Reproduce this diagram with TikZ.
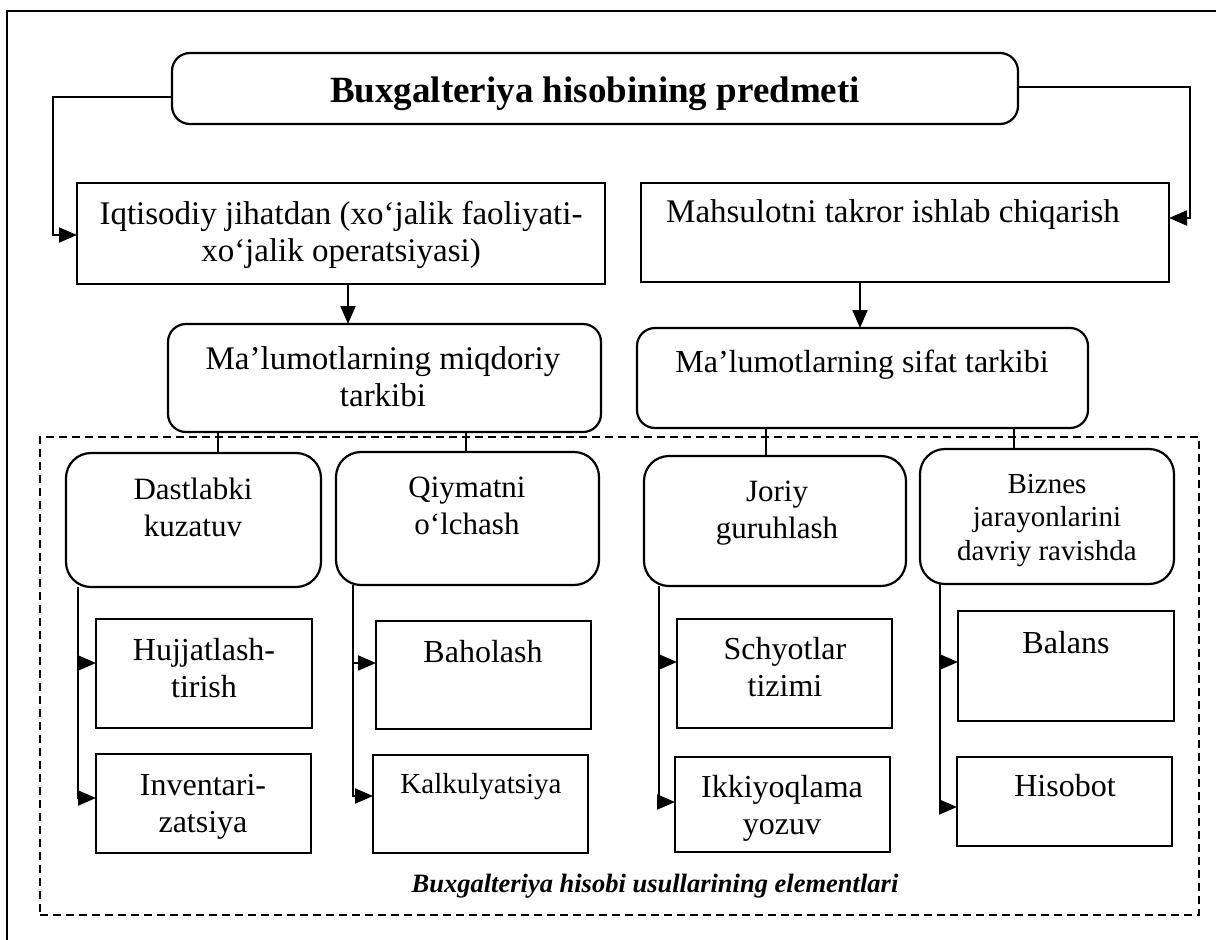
\documentclass[tikz,border=0pt]{standalone}
\usepackage{fontspec}
\setmainfont{Liberation Serif}
\usetikzlibrary{arrows.meta}

% centred lines whose baseline is that of the first line
\newcommand{\boxlines}[1]{\begin{tabular}[t]{@{}c@{}}#1\end{tabular}}
\newcommand{\fTitle}{\fontsize{37}{42}\selectfont\bfseries}
\newcommand{\fMain}{\fontsize{33}{37}\selectfont}
\newcommand{\fHead}{\fontsize{31}{37.5}\selectfont}
\newcommand{\fSub}{\fontsize{32}{37}\selectfont}
\newcommand{\fSmall}{\fontsize{29}{33.5}\selectfont}
\newcommand{\fCap}{\fontsize{26.5}{30}\selectfont\bfseries\itshape}

\tikzset{
  box/.style={draw, line width=2.2pt, inner sep=0pt, outer sep=0pt},
  rbox/.style={box, rounded corners=#1},
  rbox/.default=18pt,
  txt/.style={anchor=base, inner sep=0pt, outer sep=0pt, align=center},
  conn/.style={line width=2pt},
  arr/.style={conn, -{Triangle[length=18pt,width=15pt]}},
  dashbox/.style={draw, line width=1.8pt, dash pattern=on 8pt off 5pt, inner sep=0pt},
}

\begin{document}
\begin{tikzpicture}[x=1pt, y=-1pt]
\useasboundingbox (0,0) rectangle (1216,940);

% page frame
\draw[line width=2.2pt] (7,940) -- (7,11) -- (1216,11);

% top level
\node[rbox, minimum width=846pt, minimum height=71pt] (title) at (595,88.5) {};
\node[txt, font=\fTitle] (title-t) at (595,102) {Buxgalteriya hisobining predmeti};

\node[box, minimum width=528pt, minimum height=101pt] (iqt) at (341,233.5) {};
\node[txt, font=\fMain] (iqt-t) at (341,224) {\boxlines{Iqtisodiy jihatdan (xo‘jalik faoliyati-\\xo‘jalik operatsiyasi)}};

\node[box, minimum width=528pt, minimum height=99pt] (mah) at (905,232.5) {};
\node[txt, font=\fMain] (mah-t) at (893,222) {Mahsulotni takror ishlab chiqarish};

% second level
\node[rbox, minimum width=433pt, minimum height=108pt] (mid1) at (384.5,378) {};
\node[txt, font=\fMain] (mid1-t) at (383,369) {\boxlines{Ma’lumotlarning miqdoriy\\tarkibi}};

\node[rbox, minimum width=451pt, minimum height=100pt] (mid2) at (862.5,378) {};
\node[txt, font=\fSub] (mid2-t) at (862,372) {Ma’lumotlarning sifat tarkibi};

% group of method elements
\node[dashbox, minimum width=1159pt, minimum height=478pt] (elems) at (619.5,676) {};
\node[txt, font=\fCap] (elems-t) at (655,892) {Buxgalteriya hisobi usullarining elementlari};

% third level
\node[rbox=25pt, minimum width=255pt, minimum height=134pt] (r1) at (193.5,520) {};
\node[txt, font=\fHead] (r1-t) at (193,499) {\boxlines{Dastlabki\\kuzatuv}};

\node[rbox=25pt, minimum width=263pt, minimum height=133pt] (r2) at (467.5,518.5) {};
\node[txt, font=\fHead] (r2-t) at (467,497) {\boxlines{Qiymatni\\o‘lchash}};

\node[rbox=25pt, minimum width=262pt, minimum height=130pt] (r3) at (775,521) {};
\node[txt, font=\fHead] (r3-t) at (777,501) {\boxlines{Joriy\\guruhlash}};

\node[rbox=25pt, minimum width=254pt, minimum height=135pt] (r4) at (1047,516.5) {};
\node[txt, font=\fSmall] (r4-t) at (1047,493) {\boxlines{Biznes\\jarayonlarini\\davriy ravishda}};

% elements
\node[box, minimum width=216pt, minimum height=109pt] (s1a) at (204,673.5) {};
\node[txt, font=\fSub] (s1a-t) at (204,660) {\boxlines{Hujjatlash-\\tirish}};
\node[box, minimum width=215pt, minimum height=99pt] (s1b) at (203.5,803.5) {};
\node[txt, font=\fSub] (s1b-t) at (203,795) {\boxlines{Inventari-\\zatsiya}};

\node[box, minimum width=215pt, minimum height=108pt] (s2a) at (483.5,675) {};
\node[txt, font=\fSub] (s2a-t) at (483,662) {Baholash};
\node[box, minimum width=215pt, minimum height=98pt] (s2b) at (480.5,804) {};
\node[txt, font=\fSmall] (s2b-t) at (481,793) {Kalkulyatsiya};

\node[box, minimum width=215pt, minimum height=109pt] (s3a) at (784.5,673.5) {};
\node[txt, font=\fSub] (s3a-t) at (785,659) {\boxlines{Schyotlar\\tizimi}};
\node[box, minimum width=215pt, minimum height=95pt] (s3b) at (782.5,804.5) {};
\node[txt, font=\fSub] (s3b-t) at (782,797) {\boxlines{Ikkiyoqlama\\yozuv}};

\node[box, minimum width=216pt, minimum height=110pt] (s4a) at (1066,666) {};
\node[txt, font=\fSub] (s4a-t) at (1066,653) {Balans};
\node[box, minimum width=215pt, minimum height=89pt] (s4b) at (1064.5,801.5) {};
\node[txt, font=\fSub] (s4b-t) at (1065,796) {Hisobot};

% connectors from the title
\coordinate (lt) at (53,97);
\coordinate (lb) at (53,235);
\draw[arr] (title.west |- lt) -- (lt) -- (lb) -- (iqt.west |- lb);
\coordinate (rt) at (1190,87);
\coordinate (rb) at (1190,218);
\draw[arr] (title.east |- rt) -- (rt) -- (rb) -- (mah.east |- rb);

% down arrows
\coordinate (d1) at (348,0);
\coordinate (d2) at (860,0);
\draw[arr] (iqt.south -| d1) -- (mid1.north -| d1);
\draw[arr] (mah.south -| d2) -- (mid2.north -| d2);

% short links into the group
\coordinate (k1) at (218,0);
\coordinate (k2) at (466,0);
\coordinate (k3) at (766,0);
\coordinate (k4) at (1014,0);
\draw[conn] (mid1.south -| k1) -- (r1.north -| k1);
\draw[conn] (mid1.south -| k2) -- (r2.north -| k2);
\draw[conn] (mid2.south -| k3) -- (r3.north -| k3);
\draw[conn] (mid2.south -| k4) -- (r4.north -| k4);

% column branches
\coordinate (c1a) at (78,663);  \coordinate (c1b) at (78,798);
\coordinate (c2a) at (353,663); \coordinate (c2b) at (353,796);
\coordinate (c3a) at (659,662); \coordinate (c3b) at (659,802);
\coordinate (c4a) at (940,662); \coordinate (c4b) at (940,807);

\draw[arr] (r1.south -| c1a) -- (c1b) -- (s1b.west |- c1b);
\draw[arr] (c1a) -- (s1a.west |- c1a);
\draw[arr] (r2.south -| c2a) -- (c2b) -- (s2b.west |- c2b);
\draw[arr] (c2a) -- (s2a.west |- c2a);
\draw[arr] (r3.south -| c3a) -- (c3b) -- (s3b.west |- c3b);
\draw[arr] (c3a) -- (s3a.west |- c3a);
\draw[arr] (r4.south -| c4a) -- (c4b) -- (s4b.west |- c4b);
\draw[arr] (c4a) -- (s4a.west |- c4a);
\end{tikzpicture}
\end{document}
